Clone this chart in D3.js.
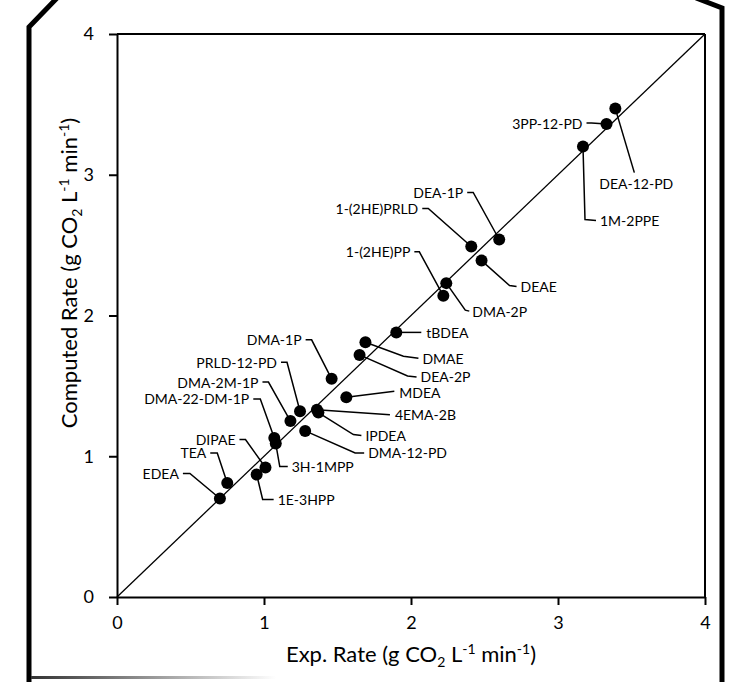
<!DOCTYPE html>
<html>
<head>
<meta charset="utf-8">
<script src="https://cdn.jsdelivr.net/npm/d3@7"></script>
<style>
  body { margin: 0; background: #fff; }
  svg { display: block; font-family: "Lato", "Open Sans", sans-serif; }
</style>
</head>
<body>
<div id="chart"></div>
<script>
// amine names with experimental and computed CO2 absorption rates
let names = ["EDEA", "TEA", "1E-3HPP", "DIPAE", "3H-1MPP", "DMA-22-DM-1P", "DMA-12-PD",
  "DMA-2M-1P", "PRLD-12-PD", "4EMA-2B", "IPDEA", "DMA-1P", "MDEA", "DEA-2P", "DMAE",
  "tBDEA", "1-(2HE)PP", "DMA-2P", "DEAE", "1-(2HE)PRLD", "DEA-1P", "1M-2PPE",
  "3PP-12-PD", "DEA-12-PD"];
let expRate = [0.70, 0.75, 0.95, 1.01, 1.08, 1.07, 1.28, 1.18, 1.245, 1.36, 1.37, 1.46,
  1.56, 1.65, 1.69, 1.90, 2.22, 2.24, 2.48, 2.41, 2.60, 3.17, 3.33, 3.39];
let compRate = [0.70, 0.81, 0.87, 0.92, 1.09, 1.13, 1.18, 1.25, 1.32, 1.33, 1.31, 1.55,
  1.42, 1.72, 1.81, 1.88, 2.14, 2.23, 2.39, 2.49, 2.54, 3.20, 3.36, 3.47];
let ticks = [0, 1, 2, 3, 4];

// label placement, pixel offsets from the dot: text pos, anchor, leader points
let labelPos = {
  "EDEA":         { t: [-41, -25], a: "end",   l: [[-30, -25], [-37, -25]] },
  "TEA":          { t: [-21, -30], a: "end",   l: [[-10, -30], [-17, -30]] },
  "1E-3HPP":      { t: [21, 25],   a: "start", l: [[6, 25], [17, 25]] },
  "DIPAE":        { t: [-30, -28], a: "end",   l: [[-20, -28], [-26, -28]] },
  "3H-1MPP":      { t: [16, 23],   a: "start", l: [[4, 23], [12, 23]] },
  "DMA-22-DM-1P": { t: [-25, -39], a: "end",   l: [[-14, -39], [-21, -39]] },
  "DMA-12-PD":    { t: [63, 22],   a: "start", l: [[50, 22], [59, 22]] },
  "DMA-2M-1P":    { t: [-32, -39], a: "end",   l: [[-22, -39], [-28, -39]] },
  "PRLD-12-PD":   { t: [-23, -49], a: "end",   l: [[-13, -49], [-19, -49]] },
  "4EMA-2B":      { t: [78, 5],    a: "start", l: [[73, 5]] },
  "IPDEA":        { t: [47, 23],   a: "start", l: [[35, 22], [43, 23]] },
  "DMA-1P":       { t: [-30, -39], a: "end",   l: [[-20, -39], [-26, -39]] },
  "MDEA":         { t: [53, -5],   a: "start", l: [[48, -6]] },
  "DEA-2P":       { t: [61, 22],   a: "start", l: [[48, 21], [57, 22]] },
  "DMAE":         { t: [57, 16],   a: "start", l: [[38, 14], [53, 16]] },
  "tBDEA":        { t: [30, 0],    a: "start", l: [[25, 0]] },
  "1-(2HE)PP":    { t: [-33, -44], a: "end",   l: [[-24, -44], [-29, -44]] },
  "DMA-2P":       { t: [26, 28],   a: "start", l: [[19, 27], [23, 28]] },
  "DEAE":         { t: [39, 26],   a: "start", l: [[28, 25], [35, 26]] },
  "1-(2HE)PRLD":  { t: [-53, -38], a: "end",   l: [[-43, -38], [-49, -38]] },
  "DEA-1P":       { t: [-36, -47], a: "end",   l: [[-26, -47], [-32, -47]] },
  "1M-2PPE":      { t: [17, 74],   a: "start", l: [[2, 73], [13, 74]] },
  "3PP-12-PD":    { t: [-24, -1],  a: "end",   l: [[-15, -1], [-20, -1]] },
  "DEA-12-PD":    { t: [-16, 75],  a: "start", l: [[19, 64]] }
};

let width = 735, height = 682;
let margin = { top: 34, right: 30, bottom: 85, left: 117 };

let svg = d3.select("#chart").append("svg")
  .attr("width", width)
  .attr("height", height);

// outer frame (cut corners, fading bottom)
let defs = svg.append("defs");
let grad = defs.append("linearGradient").attr("id", "fade");
grad.append("stop").attr("offset", "0%").attr("stop-color", "#333");
grad.append("stop").attr("offset", "100%").attr("stop-color", "#fff");

svg.append("path")
  .attr("d", "M29,690 V27 L58,-3")
  .attr("fill", "none").attr("stroke", "#000").attr("stroke-width", 5);
svg.append("path")
  .attr("d", "M696,-2 L722,8 V690")
  .attr("fill", "none").attr("stroke", "#000").attr("stroke-width", 5);
svg.append("rect")
  .attr("x", 31).attr("y", 676).attr("width", 245).attr("height", 3)
  .attr("fill", "url(#fade)");

let x = d3.scaleLinear().domain([0, 4]).range([margin.left, 705]);
let y = d3.scaleLinear().domain([0, 4]).range([597, margin.top]);

// box top and right
svg.append("line")
  .attr("x1", x(0)).attr("x2", x(4)).attr("y1", y(4)).attr("y2", y(4))
  .attr("stroke", "#000").attr("stroke-width", 2);
svg.append("line")
  .attr("x1", x(4)).attr("x2", x(4)).attr("y1", y(4)).attr("y2", y(0))
  .attr("stroke", "#000").attr("stroke-width", 2);

let xAxis = svg.append("g")
  .attr("transform", "translate(0," + y(0) + ")")
  .call(d3.axisBottom(x).tickValues(ticks).tickFormat(d3.format("d"))
    .tickSize(8).tickSizeOuter(0).tickPadding(11));
let yAxis = svg.append("g")
  .attr("transform", "translate(" + x(0) + ",0)")
  .call(d3.axisLeft(y).tickValues(ticks).tickFormat(d3.format("d"))
    .tickSize(8).tickSizeOuter(0).tickPadding(15));

[xAxis, yAxis].forEach(function (g) {
  g.select(".domain").attr("stroke-width", 2);
  g.selectAll(".tick line").attr("stroke-width", 2);
  g.selectAll(".tick text").attr("font-size", 18).attr("font-family", "Lato").attr("fill", "#000");
});

// 1:1 line
svg.append("line")
  .attr("x1", x(0)).attr("y1", y(0)).attr("x2", x(4)).attr("y2", y(4))
  .attr("stroke", "#000").attr("stroke-width", 1.3);

// axis titles
function unitTitle(t, main) {
  t.append("tspan").text(main + " (g CO");
  t.append("tspan").attr("font-size", 14).attr("dy", 5).text("2");
  t.append("tspan").attr("dy", -5).text(" L");
  t.append("tspan").attr("font-size", 14).attr("dy", -8).text("-1");
  t.append("tspan").attr("dy", 8).text(" min");
  t.append("tspan").attr("font-size", 14).attr("dy", -8).text("-1");
  t.append("tspan").attr("dy", 8).text(")");
}
let xt = svg.append("text")
  .attr("x", (x(0) + x(4)) / 2).attr("y", 662)
  .attr("text-anchor", "middle").attr("font-size", 22);
unitTitle(xt, "Exp. Rate");
let yt = svg.append("text")
  .attr("transform", "translate(77,273) rotate(-90)")
  .attr("text-anchor", "middle").attr("font-size", 22);
unitTitle(yt, "Computed Rate");

// points
let data = names.map(function (n, i) {
  return { name: n, ex: expRate[i], cp: compRate[i] };
});

let lab = svg.append("g");
data.forEach(function (d) {
  let px = x(d.ex), py = y(d.cp), p = labelPos[d.name];
  let pts = [[px, py]].concat(p.l.map(function (o) { return [px + o[0], py + o[1]]; }));
  lab.append("path")
    .attr("d", d3.line()(pts))
    .attr("fill", "none").attr("stroke", "#000").attr("stroke-width", 1.5);
  lab.append("text")
    .attr("x", px + p.t[0]).attr("y", py + p.t[1])
    .attr("text-anchor", p.a).attr("dominant-baseline", "central")
    .attr("font-size", 14).text(d.name);
});

svg.append("g").selectAll("circle")
  .data(data).join("circle")
  .attr("cx", function (d) { return x(d.ex); })
  .attr("cy", function (d) { return y(d.cp); })
  .attr("r", 6)
  .attr("fill", "#000");
</script>
</body>
</html>
